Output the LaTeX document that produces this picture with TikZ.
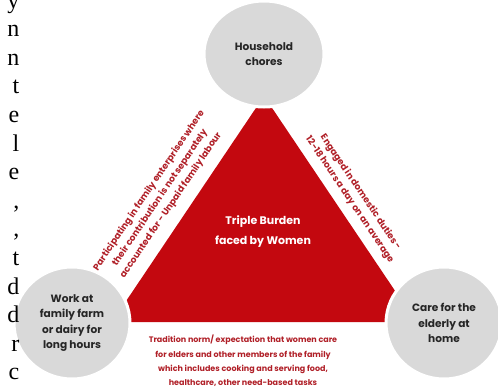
\documentclass[tikz,border=0pt]{standalone}
\usepackage{fontspec}
\setmainfont{Poppins}
\newfontfamily\edgeserif{Liberation Serif}
\usetikzlibrary{shapes.geometric}
\definecolor{burden}{RGB}{195,8,15}
\definecolor{labelred}{RGB}{176,32,40}
\definecolor{blobgray}{RGB}{217,217,217}
\definecolor{blobtext}{RGB}{38,38,38}
\tikzset{
  blob/.style={ellipse, fill=blobgray, draw=white, line width=3pt, inner sep=0pt,
    text=blobtext, align=center, font=\bfseries\fontsize{10.6}{15.5}\selectfont},
  sidetext/.style={text=labelred, align=center, inner sep=0pt,
    font=\bfseries\fontsize{9.1}{13.2}\selectfont},
  basetext/.style={text=labelred, align=center, inner sep=0pt,
    font=\bfseries\fontsize{8}{14.4}\selectfont},
  centertext/.style={text=white, align=center, inner sep=0pt,
    font=\bfseries\fontsize{11}{20}\selectfont},
  edgeletter/.style={anchor=base east, inner sep=0pt, text=black,
    font=\edgeserif\fontsize{24}{24}\selectfont}
}
\begin{document}
\begin{tikzpicture}[x=1pt,y=-1pt]
\useasboundingbox (0,0) rectangle (498,391);
% triangle
\coordinate (apex) at (264,96);
\coordinate (bl) at (112,322);
\coordinate (br) at (416,322);
\fill[burden] (apex) -- (bl) -- (br) -- cycle;
% circles
\node[blob, minimum width=116pt, minimum height=112pt] (farm) at (72,323) {Work at\\family farm\\or dairy for\\long hours};
\node[blob, minimum width=120pt, minimum height=106pt] (chores) at (264,54) {Household\\chores};
\node[blob, minimum width=116pt, minimum height=112pt] (elderly) at (444,323) {Care for the\\elderly at\\home};
% texts
\node[centertext] (burdenlabel) at (263,232) {Triple Burden\\faced by Women};
\node[sidetext, rotate=56] (unpaid) at (160,198) {Participating in family enterprises where\\their contribution is not separately\\accounted for - Unpaid family labour};
\node[sidetext, rotate=-56] (domestic) at (355,196) {Engaged in domestic duties -\\12-18 hours a day on an average};
\node[basetext] (tradition) at (243,361) {Tradition norm/ expectation that women care\\for elders and other members of the family\\which includes cooking and serving food,\\healthcare, other need-based tasks};
% cropped letters of neighbouring page text
\foreach \ch [count=\i from 0] in {y,n,n,t,e,l,e,{,},{,},t,d,d,r,c}{
  \node[edgeletter] (edge\i) at (19.5,{8+28.6*\i}) {\ch};
}
\end{tikzpicture}
\end{document}
